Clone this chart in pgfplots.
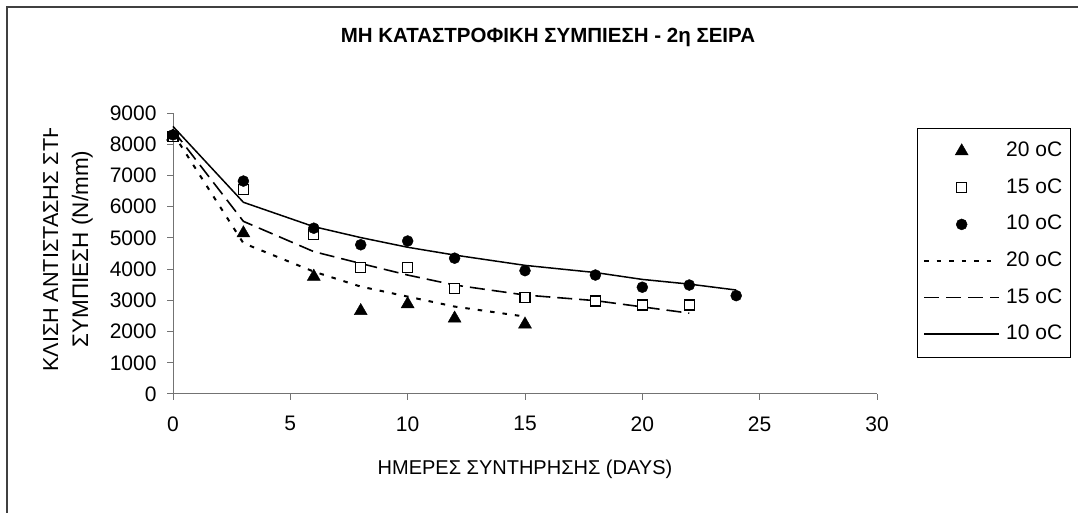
\documentclass[border=0pt]{standalone}
\usepackage{pgfplots}
\pgfplotsset{compat=1.18}
\usepackage{fontspec}
\setmainfont{Liberation Sans}

\begin{document}
\begin{tikzpicture}[x=1pt,y=1pt]
\path[use as bounding box] (0,0) rectangle (1078,513);
% chart area frame (left and top edges)
\draw[line width=2pt, black!75] (6.7,0) -- (6.7,506) -- (1078,506);
% title
\node[font=\bfseries\fontsize{20.5}{24}\selectfont, anchor=base, inner sep=0pt] at (548,470)
  {ΜΗ ΚΑΤΑΣΤΡΟΦΙΚΗ ΣΥΜΠΙΕΣΗ - 2η ΣΕΙΡΑ};
% axis titles
\node[font=\fontsize{20}{24}\selectfont, anchor=base, inner sep=0pt] at (525,38)
  {ΗΜΕΡΕΣ ΣΥΝΤΗΡΗΣΗΣ (DAYS)};
\begin{scope}
  \clip (20,0) rectangle (70,384);
  \node[font=\fontsize{21.6}{25}\selectfont, rotate=90, anchor=base west, inner sep=0pt] at (58,141)
    {ΚΛΙΣΗ ΑΝΤΙΣΤΑΣΗΣ ΣΤΗ};
\end{scope}
\node[font=\fontsize{22.5}{26}\selectfont, rotate=90, anchor=base, inner sep=0pt] at (88,264)
  {ΣΥΜΠΙΕΣΗ (N/mm)};

\begin{axis}[
  at={(173pt,119pt)}, anchor=south west,
  scale only axis, width=704pt, height=281pt,
  xmin=0, xmax=30, ymin=0, ymax=9000,
  xtick={0,5,...,30}, ytick={0,1000,...,9000},
  axis lines*=left,
  axis line style={black!55, line width=1pt},
  tick style={black!55, line width=1pt},
  tick align=outside, major tick length=6pt,
  ticklabel style={font=\fontsize{21}{25}\selectfont},
  xticklabel style={yshift=-13pt},
  yticklabel style={xshift=-7pt},
  /pgf/number format/assume math mode=true,
  /pgf/number format/1000 sep={},
  clip=false,
  legend style={at={(axis description cs:1.0568,0.9466)}, anchor=north west,
    draw=black, fill=white, font=\fontsize{21}{25}\selectfont,
    inner xsep=6pt, inner ysep=12pt, row sep=14.6pt, column sep=4.5pt,
    nodes={inner sep=1.5pt, text height=15pt, text depth=4pt}},
  legend cell align=left,
  legend image code/.code={\draw[mark repeat=2,mark phase=2,#1]
    plot coordinates {(0pt,0pt) (37.5pt,0pt) (75pt,0pt)};},
]
% measured values
\addplot[only marks, mark=triangle*, mark size=7.5pt, black] coordinates {
  (0,8250) (3,5150) (6,3760) (8,2660) (10,2880) (12,2420) (15,2230)};
\addlegendentry{20 oC}
\addplot[only marks, mark=square*, mark size=5pt, black,
  mark options={fill=white, line width=1.2pt}] coordinates {
  (0,8250) (3,6560) (6,5100) (8,4060) (10,4050) (12,3370) (15,3100)
  (18,2980) (20,2850) (22,2850)};
\addlegendentry{15 oC}
\addplot[only marks, mark=*, mark size=5.5pt, black] coordinates {
  (0,8300) (3,6820) (6,5310) (8,4780) (10,4900) (12,4350) (15,3950)
  (18,3810) (20,3420) (22,3490) (24,3150)};
\addlegendentry{10 oC}
% fitted curves
\addplot[black, line width=2pt, dash pattern=on 4.5pt off 8pt] coordinates {
  (0,8350) (3,4830) (6,3920) (8,3440) (10,3120) (12,2800) (15,2480)};
\addlegendentry{20 oC}
\addplot[black, line width=1.6pt, dash pattern=on 15pt off 7pt] coordinates {
  (0,8450) (3,5530) (6,4560) (8,4180) (10,3810) (12,3490) (15,3170)
  (18,2990) (20,2790) (22,2590)};
\addlegendentry{15 oC}
\addplot[black, line width=1.5pt, solid] coordinates {
  (0,8570) (3,6140) (6,5360) (8,5010) (10,4700) (12,4450) (15,4120)
  (18,3890) (20,3670) (22,3520) (24,3330)};
\addlegendentry{10 oC}
\end{axis}
\end{tikzpicture}
\end{document}
